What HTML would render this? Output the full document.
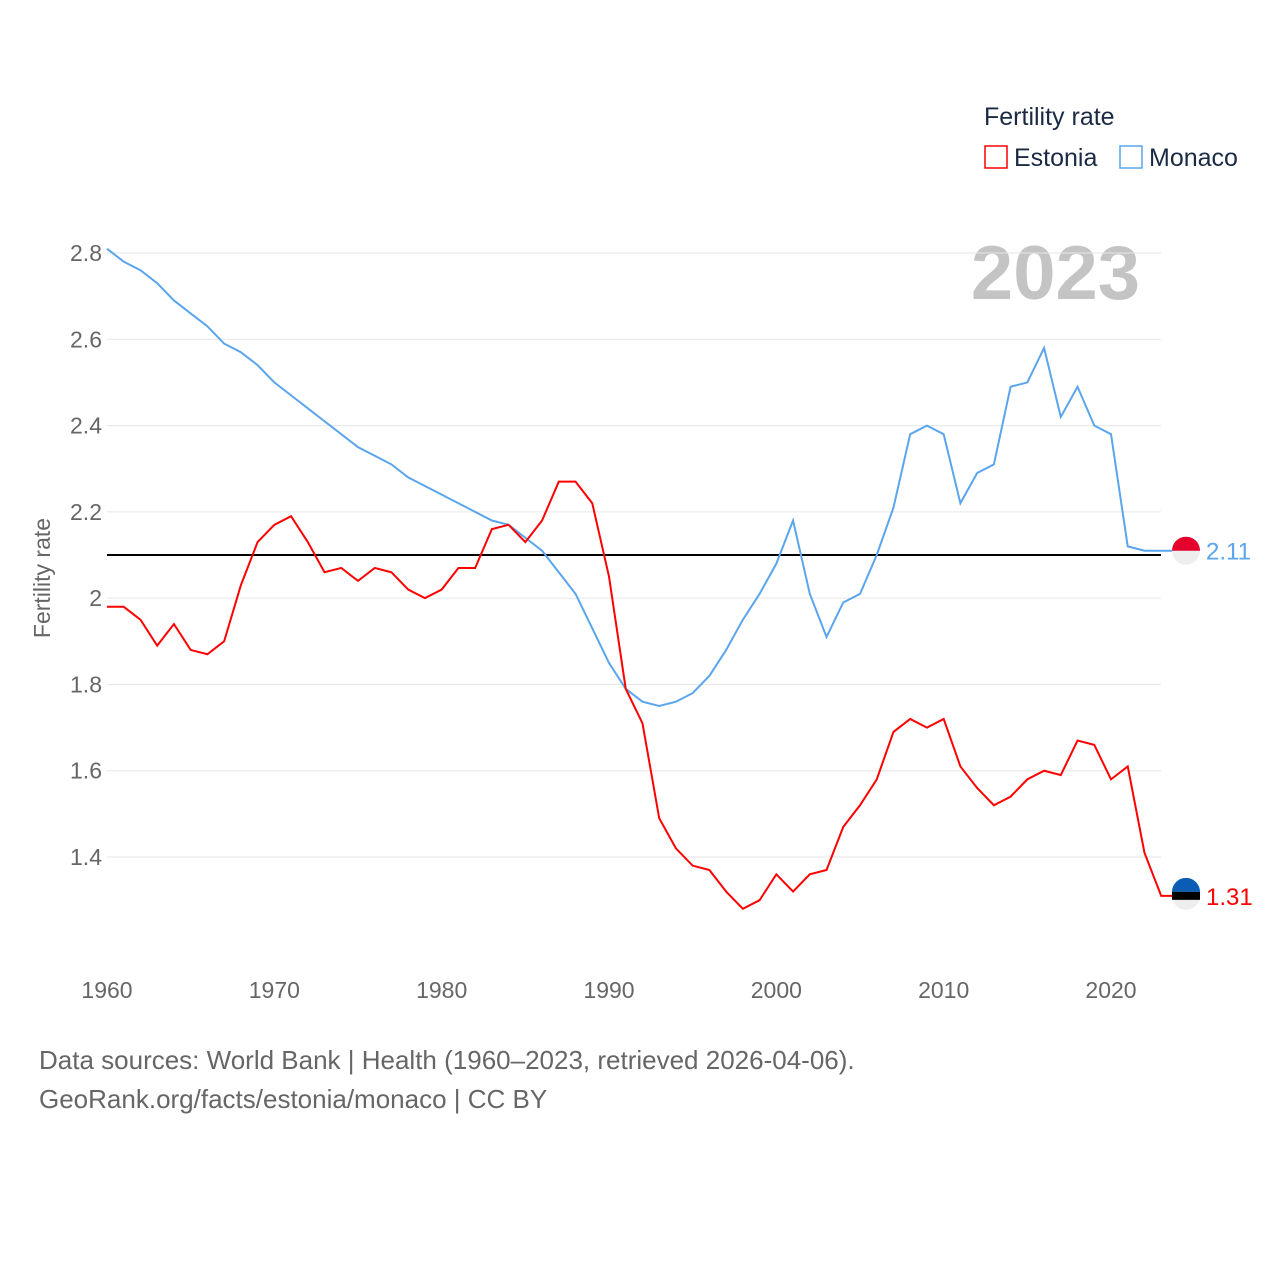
<!DOCTYPE html>
<html><head><meta charset="utf-8"><style>
body{margin:0;background:#fff;}
svg{display:block;font-family:"Liberation Sans",sans-serif;}
</style></head><body>
<svg id="chart" width="1280" height="1280">
<text x="984" y="125" font-size="25" fill="#1a2a44">Fertility rate</text>
<g>
<rect x="985" y="146" width="22" height="22" fill="none" stroke="#f00" stroke-width="1.5"/>
<text x="1014" y="166" font-size="25" fill="#1a2a44">Estonia</text></g>
<g>
<rect x="1120" y="146" width="22" height="22" fill="none" stroke="#5aa5ec" stroke-width="1.5"/>
<text x="1149" y="166" font-size="25" fill="#1a2a44">Monaco</text></g>
<text x="1140" y="299" font-size="76" font-weight="bold" fill="#c4c4c4" text-anchor="end">2023</text>
<text transform="translate(50,578) rotate(-90)" font-size="23" fill="#666" text-anchor="middle">Fertility rate</text>
<g id="grid"></g><g id="yt"></g><g id="xt"></g><g id="lines"></g>
<text x="39" y="1069" font-size="26" fill="#666">Data sources: World Bank | Health (1960–2023, retrieved 2026-04-06).</text>
<text x="39" y="1108" font-size="26" fill="#666">GeoRank.org/facts/estonia/monaco | CC BY</text>
</svg>
<script>
const years=[];for(let y=1960;y<=2023;y++)years.push(y);
const estonia=[1.98,1.98,1.95,1.89,1.94,1.88,1.87,1.90,2.03,2.13,2.17,2.19,2.13,2.06,2.07,2.04,2.07,2.06,2.02,2.00,2.02,2.07,2.07,2.16,2.17,2.13,2.18,2.27,2.27,2.22,2.05,1.79,1.71,1.49,1.42,1.38,1.37,1.32,1.28,1.30,1.36,1.32,1.36,1.37,1.47,1.52,1.58,1.69,1.72,1.70,1.72,1.61,1.56,1.52,1.54,1.58,1.60,1.59,1.67,1.66,1.58,1.61,1.41,1.31];
const monaco=[2.81,2.78,2.76,2.73,2.69,2.66,2.63,2.59,2.57,2.54,2.50,2.47,2.44,2.41,2.38,2.35,2.33,2.31,2.28,2.26,2.24,2.22,2.20,2.18,2.17,2.14,2.11,2.06,2.01,1.93,1.85,1.79,1.76,1.75,1.76,1.78,1.82,1.88,1.95,2.01,2.08,2.18,2.01,1.91,1.99,2.01,2.10,2.21,2.38,2.40,2.38,2.22,2.29,2.31,2.49,2.50,2.58,2.42,2.49,2.40,2.38,2.12,2.11,2.11];
const yTicks=[1.4,1.6,1.8,2.0,2.2,2.4,2.6,2.8];
const yTickLabels=["1.4","1.6","1.8","2","2.2","2.4","2.6","2.8"];
const xTicks=[1960,1970,1980,1990,2000,2010,2020];
const refLine=2.1;
const X=y=>107+(y-1960)*(1111-107)/60;
const Y=v=>253+(2.8-v)/0.2*86.29;
const NS="http://www.w3.org/2000/svg";
function mk(p,t,a){const e=document.createElementNS(NS,t);for(const k in a)e.setAttribute(k,a[k]);p.appendChild(e);return e;}
const grid=document.getElementById('grid'),yt=document.getElementById('yt'),xt=document.getElementById('xt'),L=document.getElementById('lines');
yTicks.forEach((v,i)=>{
 const g=mk(grid,'line',{x1:107,x2:1161,y1:Y(v),y2:Y(v),stroke:'#e6e6e6','stroke-width':1});
 
 
 const t=mk(yt,'text',{x:102,y:Y(v)+8,'font-size':23,fill:'#666','text-anchor':'end'});t.textContent=yTickLabels[i];
 
 
});
xTicks.forEach(v=>{
 const t=mk(xt,'text',{x:X(v),y:998,'font-size':23,fill:'#666','text-anchor':'middle'});t.textContent=v;
 
 
});
const rl=mk(L,'line',{x1:107,x2:1161,y1:Y(refLine),y2:Y(refLine),stroke:'#000','stroke-width':2});


function series(d,c,name){
 const pts=d.map((v,i)=>X(years[i])+','+Y(v));
 pts.push('1172,'+Y(d[d.length-1]));
 const p=mk(L,'polyline',{points:pts.join(' '),fill:'none',stroke:c,'stroke-width':2});
 
 
}
series(monaco,'#5aa5ec','monaco-line');
series(estonia,'#f00','estonia-line');
function flag(v,top,mid,lbl,c,name){
 const cy=Y(v),cx=1186;
 const g=mk(L,'g',{});
 
 
 mk(g,'circle',{cx:cx,cy:cy,r:14,fill:'#eee'});
 if(mid){mk(g,'path',{d:`M${cx-14} ${cy-4}A14 14 0 0 1 ${cx+14} ${cy-4}Z`,fill:top});mk(g,'rect',{x:cx-14,y:cy-4,width:28,height:8,fill:mid});}
 else mk(g,'path',{d:`M${cx-14} ${cy}A14 14 0 0 1 ${cx+14} ${cy}Z`,fill:top});
 const t=mk(g,'text',{x:1206,y:cy+9,'font-size':24,fill:c});t.textContent=lbl;
}
flag(monaco[monaco.length-1],'#e4002b',null,monaco[monaco.length-1].toFixed(2),'#5aa5ec','monaco-end-label');
flag(estonia[estonia.length-1],'#0b5cb5','#000',estonia[estonia.length-1].toFixed(2),'#f00','estonia-end-label');
</script>
</body></html>
